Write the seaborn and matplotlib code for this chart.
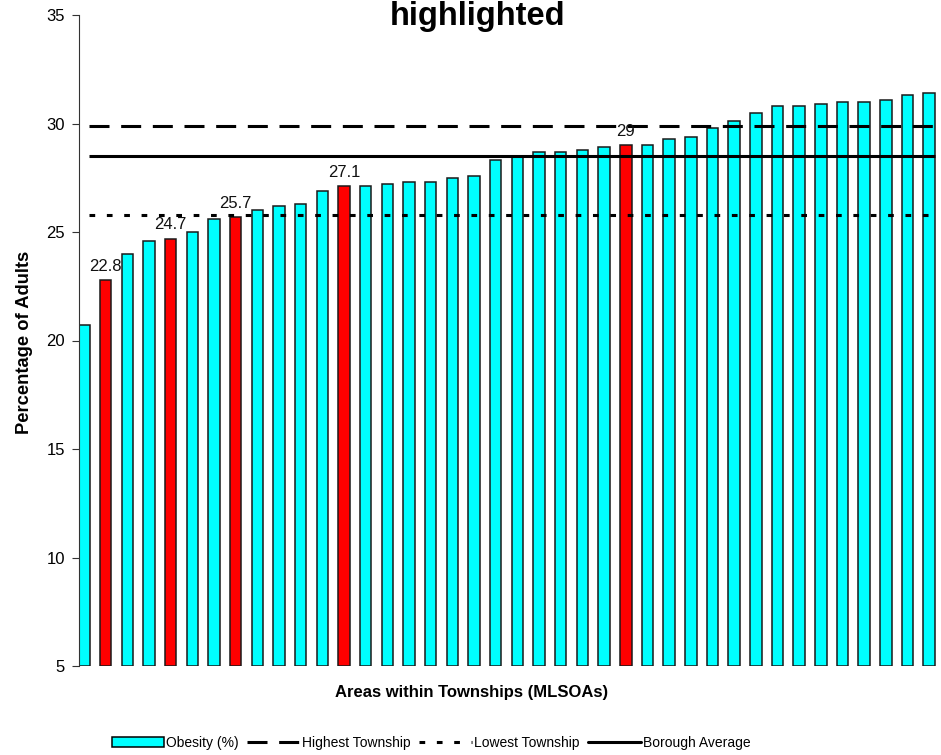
import matplotlib
matplotlib.use("Agg")
import matplotlib.pyplot as plt
from matplotlib.patches import Patch
from matplotlib.lines import Line2D
import seaborn as sns
import pandas as pd

# Obesity estimates per MLSOA, sorted ascending
obesity = [20.7, 22.8, 24.0, 24.6, 24.7, 25.0, 25.6, 25.7, 26.0, 26.2,
           26.3, 26.9, 27.1, 27.1, 27.2, 27.3, 27.3, 27.5, 27.6, 28.3,
           28.5, 28.7, 28.7, 28.8, 28.9, 29.0, 29.0, 29.3, 29.4, 29.8,
           30.1, 30.5, 30.8, 30.8, 30.9, 31.0, 31.0, 31.1, 31.3, 31.4]
# positions (0-based) of the township areas shown in red and labelled
township_idx = [1, 4, 7, 12, 25]

highest_township = 29.9
lowest_township = 25.8
borough_average = 28.5

y_ticks = [5, 10, 15, 20, 25, 30, 35]

sns.set_style("white")
plt.rcParams["font.family"] = ["Liberation Sans", "DejaVu Sans"]
plt.rcParams["lines.scale_dashes"] = False
plt.rcParams["text.color"] = "black"
plt.rcParams["ytick.color"] = "black"

df = pd.DataFrame({
    "area": list(range(len(obesity))),
    "obesity": obesity,
    "group": ["township" if i in township_idx else "other" for i in range(len(obesity))],
})

fig = plt.figure(figsize=(9.41, 7.55), dpi=100)
ax = fig.add_axes([79 / 941, 1 - 666 / 755, (940 - 79) / 941, (666 - 15) / 755])

sns.barplot(data=df, x="area", y="obesity", hue="group", dodge=False,
            palette={"other": "#00FFFF", "township": "#FF0000"},
            saturation=1, width=0.53, edgecolor="#1a1a1a", linewidth=1.1,
            legend=False, ax=ax)

# bars rise from the bottom of the value axis
for p in ax.patches:
    h = p.get_height()
    p.set_y(5)
    p.set_height(h - 5)

# reference lines
x0, x1 = 0.23, 39.27
ax.hlines(highest_township, x0, x1, color="black", lw=2.2,
          linestyle=(0, (14.4, 8.4)), capstyle="butt")
ax.hlines(lowest_township, x0, x1, color="black", lw=2.2,
          linestyle=(0, (4.1, 8.4)))
ax.hlines(borough_average, x0, x1, color="black", lw=2.2)

for i in township_idx:
    v = obesity[i]
    ax.annotate(f"{v:g}", (i, v), xytext=(0, 6.5), textcoords="offset points",
                ha="center", va="baseline", fontsize=12, color="#111111")

ax.set_ylim(5, 35)
ax.set_xlim(-0.23, 39.5)
ax.set_yticks(y_ticks)
ax.set_yticklabels([str(t) for t in y_ticks], fontsize=12, color="black")
ax.set_xticks([])
ax.set_xlabel("")
ax.set_ylabel("")
ax.tick_params(axis="y", direction="out", length=5, width=0.8, pad=5,
               left=True, color="#333333")
for s in ["top", "right", "bottom"]:
    ax.spines[s].set_visible(False)
ax.spines["left"].set_color("#333333")
ax.spines["left"].set_linewidth(0.8)

fig.text(25 / 941, 1 - 342 / 755, "Percentage of Adults", rotation=90,
         ha="center", va="center", fontsize=13.2, fontweight="bold", color="black")
fig.text(472 / 941, 1 - 693 / 755, "Areas within Townships (MLSOAs)",
         ha="center", va="center", fontsize=12, fontweight="bold", color="black")
fig.text(478 / 941, 1 - 1 / 755, "highlighted", ha="center", va="top",
         fontsize=23.5, fontweight="bold", color="black")

handles = [
    Patch(facecolor="#00FFFF", edgecolor="black", linewidth=1.1, label="Obesity (%)"),
    Line2D([], [], color="black", lw=2.2, linestyle=(0, (14.4, 8.4)), label="Highest Township"),
    Line2D([], [], color="black", lw=2.2, linestyle=(0, (4.1, 8.4)), label="Lowest Township"),
    Line2D([], [], color="black", lw=2.2, label="Borough Average"),
]
fig.legend(handles=handles, loc="center", bbox_to_anchor=(431 / 941, 1 - 743 / 755),
           ncol=4, frameon=False, fontsize=10, handlelength=3.8,
           handletextpad=0.15, columnspacing=0.6, borderaxespad=0,
           labelcolor="black")

fig.savefig("out.png", dpi=100)
